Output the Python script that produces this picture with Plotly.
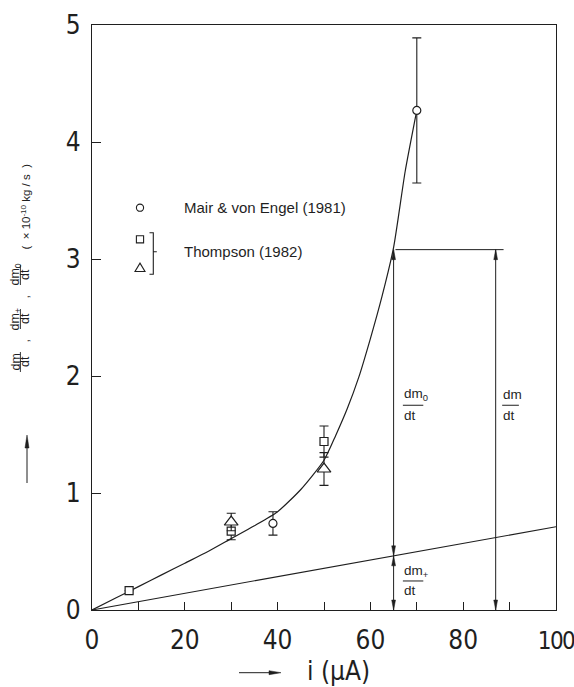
import plotly.graph_objects as go

# ---------------- data ----------------
curve_x = [0, 5, 10, 15, 20, 25, 30, 35, 40, 45, 50, 52.5, 55, 57.5, 60, 62.5, 65, 67.5, 70]
curve_y = [0, 0.10, 0.20, 0.30, 0.40, 0.50, 0.61, 0.72, 0.84, 1.03, 1.28, 1.49, 1.72, 1.99, 2.32, 2.68, 3.10, 3.75, 4.27]

ion_x = [0, 100]
ion_y = [0, 0.712]

mair_x = [39, 70]
mair_y = [0.74, 4.27]
mair_err = [0.10, 0.62]

thsq_x = [8, 30, 50]
thsq_y = [0.165, 0.675, 1.44]
thsq_err = [0.0, 0.075, 0.133]

thtr_x = [30, 50]
thtr_y = [0.752, 1.205]
thtr_err = [0.075, 0.14]

x_tickvals = [0, 20, 40, 60, 80, 100]
x_ticktext = ["0", "20", "40", "60", "80",
              "<span style='font-size:24px;letter-spacing:-1.6px'>100</span>"]
x_minor_ticks = [10, 30, 50, 70, 90]
y_tickvals = [0, 1, 2, 3, 4, 5]

# dimension lines (construction of dm/dt = dm0/dt + dm+/dt)
dim_x = [65, 87]
dim_top = 3.08
dim_mid = 0.463
dim_hline_end = 88.7

# ---------------- layout helpers ----------------
W, H = 574, 687
L, R, T, B = 92, 18, 25, 77
PW, PH = W - L - R, H - T - B
INK = "#1f1f1f"
TICKFONT = "DejaVu Sans Condensed, Liberation Sans Narrow, sans-serif"
TXTFONT = "Liberation Sans, Arial, sans-serif"


def pxx(xp):
    return (xp - L) / PW


def pxy(yp):
    return (H - B - yp) / PH


fig = go.Figure()

fig.add_trace(go.Scatter(x=ion_x, y=ion_y, mode="lines",
                         line=dict(color=INK, width=1.1), hoverinfo="skip"))
fig.add_trace(go.Scatter(x=curve_x, y=curve_y, mode="lines",
                         line=dict(color=INK, width=1.2, shape="spline", smoothing=0.6),
                         hoverinfo="skip"))

err_style = dict(type="data", thickness=1.1, width=4.5, color=INK)
fig.add_trace(go.Scatter(x=mair_x, y=mair_y, mode="markers",
                         error_y=dict(array=mair_err, **err_style),
                         marker=dict(symbol="circle", size=8, color="white",
                                     line=dict(color=INK, width=1.2))))
fig.add_trace(go.Scatter(x=thsq_x, y=thsq_y, mode="markers",
                         error_y=dict(array=thsq_err, **err_style),
                         marker=dict(symbol="square", size=8, color="white",
                                     line=dict(color=INK, width=1.2))))
fig.add_trace(go.Scatter(x=thtr_x, y=thtr_y, mode="markers",
                         error_y=dict(array=thtr_err, **err_style),
                         marker=dict(symbol="triangle-up", size=12, color="white",
                                     line=dict(color=INK, width=1.2))))

shapes = []
ann = []

# dimension lines
for xv in dim_x:
    shapes.append(dict(type="line", xref="x", yref="y", x0=xv, x1=xv, y0=0, y1=dim_top,
                       line=dict(color=INK, width=1.0)))
shapes.append(dict(type="line", xref="x", yref="y", x0=dim_x[0] + 0.4, x1=dim_hline_end,
                   y0=dim_top, y1=dim_top, line=dict(color=INK, width=1.0)))

UP = "M0,0 L-1.9,-10 L1.9,-10 Z"
DOWN = "M0,0 L-1.9,10 L1.9,10 Z"


def head(xa, ya, path, xref="x", yref="y"):
    shapes.append(dict(type="path", xref=xref, yref=yref, xsizemode="pixel", ysizemode="pixel",
                       xanchor=xa, yanchor=ya, path=path,
                       fillcolor=INK, line=dict(color=INK, width=0.5)))


head(dim_x[0], dim_top, UP)
head(dim_x[0], dim_mid, DOWN)
head(dim_x[0], dim_mid, UP)
head(dim_x[0], 0, DOWN)
head(dim_x[1], dim_top, UP)
head(dim_x[1], 0, DOWN)


# fractions inside plot
def frac_data(x_left, y_num, y_bar, y_den, num, den, bar_w):
    ann.append(dict(x=x_left, y=y_num, xref="x", yref="y", text=num, showarrow=False,
                    xanchor="left", yanchor="middle", font=dict(family=TXTFONT, size=13.5, color=INK)))
    ann.append(dict(x=x_left, y=y_den, xref="x", yref="y", text=den, showarrow=False,
                    xanchor="left", yanchor="middle", font=dict(family=TXTFONT, size=13.5, color=INK)))
    shapes.append(dict(type="line", xref="x", yref="y", x0=x_left + 0.2, x1=x_left + bar_w,
                       y0=y_bar, y1=y_bar, line=dict(color=INK, width=1.0)))


frac_data(66.8, 1.84, 1.75, 1.66, "dm<sub>0</sub>", "dt", 4.6)
frac_data(88.2, 1.84, 1.75, 1.66, "dm", "dt", 3.8)
frac_data(66.8, 0.33, 0.248, 0.165, "dm<sub>+</sub>", "dt", 4.6)

# legend
shapes.append(dict(type="circle", xref="paper", yref="paper", xsizemode="pixel", ysizemode="pixel",
                   xanchor=pxx(140), yanchor=pxy(207.7), x0=-3.6, x1=3.6, y0=-3.6, y1=3.6,
                   line=dict(color=INK, width=1.1), fillcolor="white"))
shapes.append(dict(type="rect", xref="paper", yref="paper", xsizemode="pixel", ysizemode="pixel",
                   xanchor=pxx(140), yanchor=pxy(239.3), x0=-3.6, x1=3.6, y0=-3.6, y1=3.6,
                   line=dict(color=INK, width=1.1), fillcolor="white"))
shapes.append(dict(type="path", xref="paper", yref="paper", xsizemode="pixel", ysizemode="pixel",
                   xanchor=pxx(140), yanchor=pxy(267.7), path="M-5,-3.8 L5,-3.8 L0,4.6 Z",
                   line=dict(color=INK, width=1.1), fillcolor="white"))
shapes.append(dict(type="path", xref="paper", yref="paper",
                   path=("M{a},{t} L{b},{t} L{b},{u} L{a},{u} M{b},{m} L{c},{m}").format(
                       a=pxx(149.5), b=pxx(153.3), c=pxx(156.8),
                       t=pxy(232.7), u=pxy(274.3), m=pxy(251.7)),
                   line=dict(color=INK, width=1.1)))
ann.append(dict(x=pxx(181.5), y=pxy(207.7), xref="paper", yref="paper", text="Mair & von Engel (1981)",
                showarrow=False, xanchor="left", yanchor="middle",
                font=dict(family=TXTFONT, size=15, color=INK)))
ann.append(dict(x=pxx(181.5), y=pxy(251.7), xref="paper", yref="paper", text="Thompson (1982)",
                showarrow=False, xanchor="left", yanchor="middle",
                font=dict(family=TXTFONT, size=15, color=INK)))


# rotated y-axis label
def rot(xp, yp, text, size=12.5):
    ann.append(dict(x=pxx(xp), y=pxy(yp), xref="paper", yref="paper", text=text, textangle=-90,
                    showarrow=False, xanchor="center", yanchor="middle",
                    font=dict(family=TXTFONT, size=size, color=INK)))


def rot_frac(yc, num):
    rot(15.5, yc, num)
    rot(25, yc, "dt")
    shapes.append(dict(type="line", xref="paper", yref="paper", x0=pxx(20.4), x1=pxx(20.4),
                       y0=pxy(yc - 10), y1=pxy(yc + 10), line=dict(color=INK, width=0.9)))


rot_frac(362, "dm")
rot(24.5, 341, ",")
rot_frac(319, "dm<sub>+</sub>")
rot(24.5, 297, ",")
rot_frac(275, "dm<sub>0</sub>")
rot(25.5, 207, "(\u00a0\u00a0×\u00a010<sup>-10</sup>\u00a0kg\u00a0/\u00a0s\u00a0\u00a0)", size=11.5)

# y label arrow (pointing up)
shapes.append(dict(type="line", xref="paper", yref="paper", x0=pxx(27), x1=pxx(27),
                   y0=pxy(440), y1=pxy(483), line=dict(color=INK, width=1.0)))
head(pxx(27), pxy(435), "M0,0 L-2,-13 L2,-13 Z", xref="paper", yref="paper")

# x label + arrow
ann.append(dict(x=pxx(338), y=pxy(671), xref="paper", yref="paper", text="i (µA)",
                showarrow=False, xanchor="center", yanchor="middle",
                font=dict(family=TICKFONT, size=26, color=INK)))
shapes.append(dict(type="line", xref="paper", yref="paper", x0=pxx(239), x1=pxx(272),
                   y0=pxy(672.7), y1=pxy(672.7), line=dict(color=INK, width=1.0)))
head(pxx(281), pxy(672.7), "M0,0 L-12,-2 L-12,2 Z", xref="paper", yref="paper")

fig.update_layout(
    width=W, height=H,
    margin=dict(l=L, r=R, t=T, b=B, autoexpand=False),
    paper_bgcolor="white", plot_bgcolor="white",
    showlegend=False,
    shapes=shapes, annotations=ann,
    xaxis=dict(range=[0, 100], tickvals=x_tickvals, ticktext=x_ticktext,
               ticks="inside", ticklen=8, tickwidth=1.1, tickcolor=INK,
               minor=dict(tickvals=x_minor_ticks, ticks="inside", ticklen=8, tickwidth=1.1,
                          tickcolor=INK, showgrid=False),
               showline=True, linecolor=INK, linewidth=1.4, mirror=True,
               showgrid=False, zeroline=False, ticklabelstandoff=7,
               ticklabeloverflow="allow", automargin=False,
               tickfont=dict(family=TICKFONT, size=26, color=INK)),
    yaxis=dict(range=[0, 5], tickvals=y_tickvals,
               ticks="inside", ticklen=9, tickwidth=1.1, tickcolor=INK,
               showline=True, linecolor=INK, linewidth=1.4, mirror=True,
               showgrid=False, zeroline=False, ticklabelstandoff=5,
               ticklabeloverflow="allow", automargin=False,
               tickfont=dict(family=TICKFONT, size=26, color=INK)),
)

fig.write_html("out.html")
